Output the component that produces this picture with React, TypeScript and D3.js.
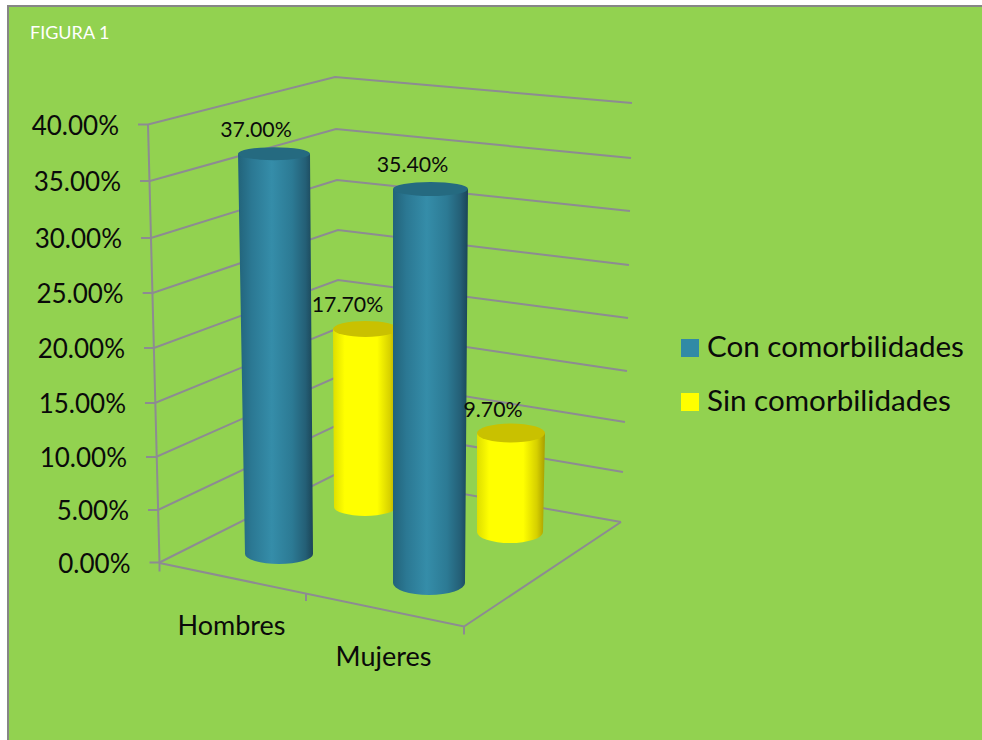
import * as d3 from "d3";

// Series values (percent of patients)
const categories = ["Hombres", "Mujeres"];
const conComorbilidades = [37.0, 35.4];
const sinComorbilidades = [17.7, 9.7];
const seriesNames = ["Con comorbilidades", "Sin comorbilidades"];
const valueTicks = [0, 5, 10, 15, 20, 25, 30, 35, 40];

const WIDTH = 982;
const HEIGHT = 740;
const GRID = "#8d8b92";
const FONT = "Lato, Carlito, sans-serif";

// The three vertical edges of the perspective box, sampled at each value tick.
const edge = (range: number[]) => d3.scaleLinear<number>().domain(valueTicks).range(range);
const frontX = edge([159.5, 158, 156, 155, 154, 152.7, 151, 150, 148]);
const frontY = edge([562.5, 510, 457, 403, 348, 293, 238, 181, 124.5]);
const backX = edge([340, 339.5, 339, 338.5, 338, 338, 337, 336, 335]);
const backY = edge([472, 424, 376, 328, 280, 230, 180, 129, 77]);
const sideX = edge([621, 623, 625, 627, 628, 629, 630, 631, 632]);
const sideY = edge([522, 472, 422, 371, 318, 265, 211, 158, 103]);

// Front floor edge, indexed by category boundary.
const floorX = d3.scaleLinear().domain([0, 1, 2]).range([159.5, 306, 464]);
const floorY = d3.scaleLinear().domain([0, 1, 2]).range([563, 593, 626.5]);

const line = d3.line<[number, number]>();

// Cylinder placement on the floor; the height follows from the value and the local unit.
type Placement = {
  baseCx: number; baseCy: number; baseRx: number; baseRy: number;
  topCx: number; topRx: number; topRy: number; unit: number;
};
const conPlacement: Placement[] = [
  { baseCx: 279, baseCy: 554, baseRx: 34, baseRy: 10, topCx: 274, topRx: 36, topRy: 6.5, unit: 10.82 },
  { baseCx: 429, baseCy: 583, baseRx: 36, baseRy: 12, topCx: 430.5, topRx: 37.5, topRy: 7, unit: 11.13 },
];
const sinPlacement: Placement[] = [
  { baseCx: 365, baseCy: 507, baseRx: 31, baseRy: 9, topCx: 365.5, topRx: 32.5, topRy: 8, unit: 10.06 },
  { baseCx: 510, baseCy: 532, baseRx: 33, baseRy: 11, topCx: 511, topRx: 34, topRy: 9.5, unit: 10.2 },
];

const pct = (v: number) => `${v.toFixed(2)}%`;

function Cylinder({ value, p, body, cap }: { value: number; p: Placement; body: string; cap: string }) {
  const y = d3.scaleLinear().domain([0, 40]).range([p.baseCy, p.baseCy - 40 * p.unit]);
  const top = y(value);
  const side =
    `M${p.topCx - p.topRx},${top}` +
    `L${p.baseCx - p.baseRx},${p.baseCy}` +
    `A${p.baseRx},${p.baseRy} 0 0 0 ${p.baseCx + p.baseRx},${p.baseCy}` +
    `L${p.topCx + p.topRx},${top}Z`;
  return (
    <g>
      <path d={side} fill={`url(#${body})`} />
      <ellipse cx={p.topCx} cy={top} rx={p.topRx} ry={p.topRy} fill={cap} />
    </g>
  );
}

function ValueLabel({ value, p }: { value: number; p: Placement }) {
  const top = p.baseCy - value * p.unit;
  return (
    <text x={p.topCx - 18} y={top - 24} dy="0.35em" textAnchor="middle" fontSize={21.3} fill="#0a0a0a">
      {pct(value)}
    </text>
  );
}

export default function App() {
  return (
    <svg
      width={WIDTH}
      height={HEIGHT}
      viewBox={`0 0 ${WIDTH} ${HEIGHT}`}
      style={{ position: "absolute", left: 0, top: 0, display: "block", background: "#fff" }}
      fontFamily={FONT}
    >
      <defs>
        <linearGradient id="blueBody" x1="0" x2="1" y1="0" y2="0">
          <stop offset="0" stopColor="#22637a" />
          <stop offset="0.18" stopColor="#2b7893" />
          <stop offset="0.45" stopColor="#358da9" />
          <stop offset="0.72" stopColor="#2c7a94" />
          <stop offset="0.9" stopColor="#245f76" />
          <stop offset="1" stopColor="#1b4557" />
        </linearGradient>
        <linearGradient id="yellowBody" x1="0" x2="1" y1="0" y2="0">
          <stop offset="0" stopColor="#dede00" />
          <stop offset="0.18" stopColor="#ffff00" />
          <stop offset="0.68" stopColor="#ffff00" />
          <stop offset="0.88" stopColor="#d6d000" />
          <stop offset="1" stopColor="#a89e00" />
        </linearGradient>
      </defs>

      <rect x={8} y={6} width={WIDTH + 10} height={HEIGHT + 10} fill="#92d250" stroke="#868686" strokeWidth={2} />
      <text x={30} y={33} dy="0.35em" fontSize={18} fill="#ffffff">FIGURA 1</text>

      {/* Walls: one polyline per value tick, running front edge, back corner, side edge */}
      <g fill="none" stroke={GRID} strokeWidth={2}>
        {valueTicks.map((v) => (
          <path
            key={v}
            d={line(
              v === 0
                ? [[frontX(v), frontY(v)], [backX(v), backY(v)], [sideX(v), sideY(v)]]
                : [[frontX(v) - 10, frontY(v)], [frontX(v), frontY(v)], [backX(v), backY(v)], [sideX(v), sideY(v)]],
            )!}
          />
        ))}
        <path d={line([[frontX(0) - 10, frontY(0)], [frontX(0), frontY(0)]])!} />
        {/* Vertical value axis */}
        <path d={line([[frontX(40), frontY(40)], [frontX(0), frontY(0)], [frontX(0), frontY(0) + 9]])!} />
        {/* Floor front and right edges with category ticks */}
        <path d={line([[floorX(0), floorY(0)], [floorX(2), floorY(2)], [sideX(0), sideY(0)]])!} />
        {[1, 2].map((i) => (
          <path key={i} d={line([[floorX(i), floorY(i)], [floorX(i), floorY(i) + 8]])!} />
        ))}
      </g>

      {valueTicks.map((v) => (
        <text key={v} x={frontX(v) - 29} y={frontY(v) + 1} dy="0.35em" textAnchor="end" fontSize={26} fill="#0a0a0a">
          {pct(v)}
        </text>
      ))}

      <text x={231.5} y={626} dy="0.35em" textAnchor="middle" fontSize={27} fill="#0a0a0a">{categories[0]}</text>
      <text x={383.5} y={657} dy="0.35em" textAnchor="middle" fontSize={27} fill="#0a0a0a">{categories[1]}</text>

      {/* Back row first so the front cylinders overlap it */}
      {sinComorbilidades.map((v, i) => (
        <Cylinder key={categories[i]} value={v} p={sinPlacement[i]} body="yellowBody" cap="#c9c100" />
      ))}
      {conComorbilidades.map((v, i) => (
        <Cylinder key={categories[i]} value={v} p={conPlacement[i]} body="blueBody" cap="#256a80" />
      ))}

      {conComorbilidades.map((v, i) => <ValueLabel key={i} value={v} p={conPlacement[i]} />)}
      {sinComorbilidades.map((v, i) => <ValueLabel key={i} value={v} p={sinPlacement[i]} />)}

      {seriesNames.map((name, i) => (
        <g key={name}>
          <rect x={681} y={339 + i * 54} width={18} height={18} fill={i === 0 ? "#318aa6" : "#ffff00"} />
          <text x={707} y={347 + i * 54} dy="0.35em" fontSize={29.6} fill="#0a0a0a">{name}</text>
        </g>
      ))}
    </svg>
  );
}
